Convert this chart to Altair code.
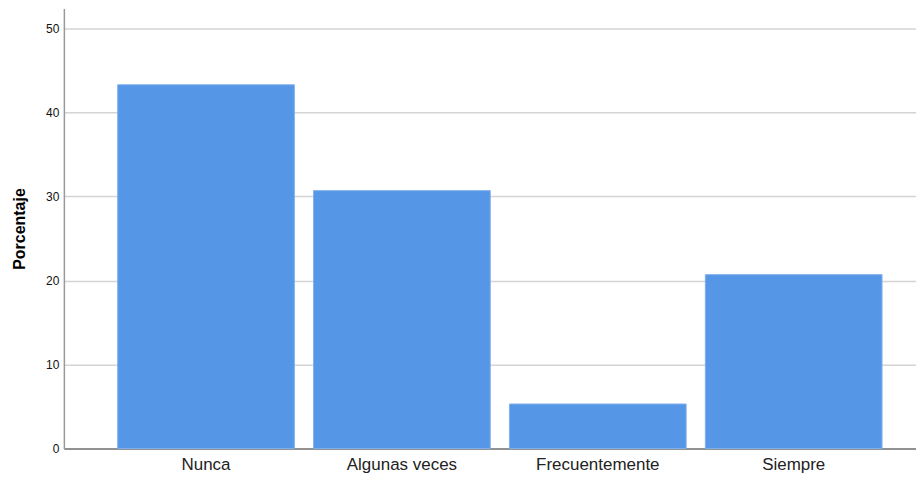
import altair as alt
import pandas as pd

categories = ["Nunca", "Algunas veces", "Frecuentemente", "Siempre"]
values = [43.3, 30.7, 5.3, 20.7]
y_ticks = [0, 10, 20, 30, 40, 50]

df = pd.DataFrame({"cat": categories, "pct": values})

chart = alt.Chart(df).mark_bar(
    color="#5596E6", stroke="#7FB0EE", strokeWidth=1
).encode(
    x=alt.X("cat:N", sort=categories, title=None,
            scale=alt.Scale(paddingInner=0.098, paddingOuter=0.224, align=0.613),
            axis=alt.Axis(labelAngle=0, labelFontSize=17, labelColor="#222222",
                          labelFont="Liberation Sans", ticks=False, labelPadding=8,
                          domainColor="#777777", domainWidth=1.5, grid=False)),
    y=alt.Y("pct:Q", title="Porcentaje",
            scale=alt.Scale(domain=[0, 52.38], nice=False, zero=True),
            axis=alt.Axis(values=y_ticks, ticks=False, labelFontSize=12,
                          labelFont="Liberation Sans", labelColor="#111111",
                          labelPadding=5, titleFont="Liberation Sans",
                          titleFontSize=16, titleFontWeight="bold",
                          titleColor="#000000", titlePadding=18,
                          domainColor="#999999", domainWidth=1.5,
                          gridColor="#D4D4D4", gridWidth=1.5)),
).properties(
    width=854, height=441,
    padding={"left": 3, "top": 0, "right": 0, "bottom": 0},
).configure_view(stroke=None)

chart.save("out.html", embed_options={"renderer": "svg", "actions": False})
